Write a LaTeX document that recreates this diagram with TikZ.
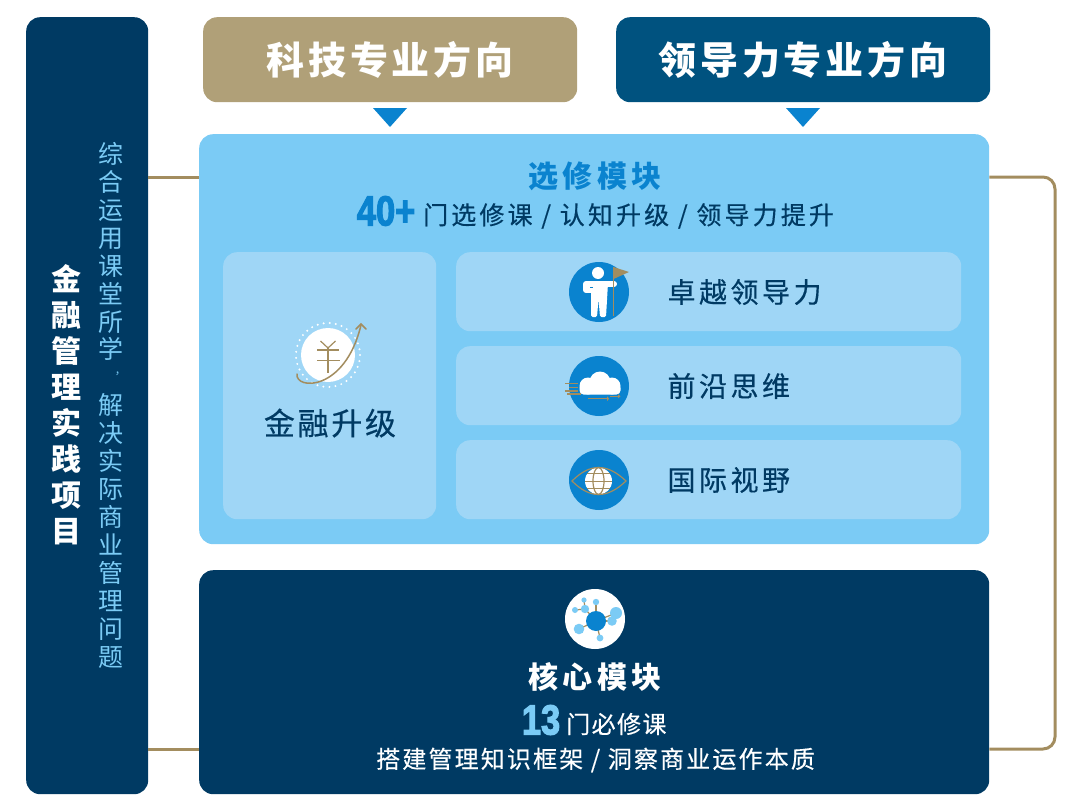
\documentclass[tikz,border=0pt]{standalone}
\usepackage{fontspec}
\setmainfont{Noto Sans CJK SC}
\newfontfamily\numfont[FakeBold=3]{Liberation Sans Bold}
\definecolor{navy}{HTML}{003A63}
\definecolor{deepblue}{HTML}{00527F}
\definecolor{gold}{HTML}{B0A078}
\definecolor{wire}{HTML}{A38D5F}
\definecolor{midblue}{HTML}{0A83CF}
\definecolor{skyblue}{HTML}{7BCBF5}
\definecolor{paleblue}{HTML}{9FD6F6}
\newcommand{\px}[2]{\fontsize{#1}{#1}\selectfont\addfontfeature{LetterSpace=#2}}
\newcommand{\heavier}{\addfontfeature{FakeBold=0.4}}
\tikzset{
  panel/.style={rounded corners=14pt, inner sep=0pt, anchor=north west},
  link/.style={draw=wire, line width=3pt},
  head/.style={text=white, font=\bfseries\px{38}{10}},
  rowtext/.style={text=navy, anchor=west, font=\px{28}{12.5}\heavier},
  body/.style={anchor=west, inner sep=0pt, font=\px{25}{12.5}\heavier},
  stack/.style={align=center, inner sep=0pt, anchor=north},
  disc/.style={circle, fill=midblue, minimum size=60pt, inner sep=0pt},
  fine/.style={wire, line width=1.2pt},
}
\begin{document}
\begin{tikzpicture}[x=1pt,y=-1pt]
    \useasboundingbox (0,0) rectangle (1080,811);
    % Panels
    \node[panel, fill=navy, minimum width=122pt, minimum height=777pt] (sidebar) at (26,17) {};
    \node[panel, fill=gold, minimum width=374pt, minimum height=85pt] (tech) at (203,17) {};
    \node[panel, fill=deepblue, minimum width=374pt, minimum height=85pt] (lead) at (616,17) {};
    \node[panel, fill=skyblue, minimum width=790pt, minimum height=410pt] (elective) at (199,134) {};
    \node[panel, fill=navy, minimum width=790pt, minimum height=224pt] (core) at (199,570) {};
    \node[panel, fill=paleblue, minimum width=213pt, minimum height=267pt] (finance) at (223,252) {};
    \node[panel, fill=paleblue, minimum width=505pt, minimum height=79pt] (rowa) at (456,252) {};
    \node[panel, fill=paleblue, minimum width=505pt, minimum height=79pt] (rowb) at (456,346) {};
    \node[panel, fill=paleblue, minimum width=505pt, minimum height=79pt] (rowc) at (456,440) {};

    % Gold links
    \coordinate (uplevel) at (0,177);
    \coordinate (lowlevel) at (0,749);
    \draw[link] (sidebar.east |- uplevel) -- (elective.west |- uplevel);
    \draw[link] (sidebar.east |- lowlevel) -- (core.west |- lowlevel);
    \draw[link, rounded corners=12pt] (elective.east |- uplevel) -- (1055,177) -- (1055,749) -- (core.east |- lowlevel);

    % Pointers
    \fill[midblue] (373,108) -- (407,108) -- (390,127) -- cycle;
    \fill[midblue] (786,108) -- (820,108) -- (803,127) -- cycle;

    % Side texts
    \node[stack, text=white, font=\bfseries\px{30}{0}] (sidetitle) at (66,264)
      {金\\[6pt]融\\[6pt]管\\[6pt]理\\[6pt]实\\[6pt]践\\[6pt]项\\[6pt]目};
    \node[stack, text=skyblue, font=\px{25}{0}] (sidetext) at (110.5,142)
      {综\\[2.95pt]合\\[2.95pt]运\\[2.95pt]用\\[2.95pt]课\\[2.95pt]堂\\[2.95pt]所\\[2.95pt]学\\[2.95pt]\hspace{20pt}\raisebox{12pt}{\scalebox{.45}{，}}\\[2.95pt]解\\[2.95pt]决\\[2.95pt]实\\[2.95pt]际\\[2.95pt]商\\[2.95pt]业\\[2.95pt]管\\[2.95pt]理\\[2.95pt]问\\[2.95pt]题};

    % Header texts
    \node[head] (techtext) at (390,60) {科技专业方向};
    \node[head] (leadtext) at (803,60) {领导力专业方向};

    % Elective module
    \node[text=midblue, font=\bfseries\px{30}{14}] (electitle) at (595,176) {选修模块};
    \node[text=midblue, anchor=west, xscale=.82, font=\numfont\fontsize{42}{42}\selectfont] (fortyplus) at (354,211) {40+};
    \node[body, text=navy] (electext) at (423,216) {门选修课 / 认知升级 / 领导力提升};
    \node[text=navy, font=\px{31}{8.7}\heavier] (financetext) at (330,423) {金融升级};

    % Yen icon
    \fill[white] (328,355) circle (27);
    \draw[white, line width=2.2pt, dash pattern=on 0pt off 6.1pt, line cap=round] (328,355) circle (32);
    \draw[fine] (320.5,341) -- (328,348) -- (335.5,341);
    \draw[fine] (328,348) -- (328,373);
    \draw[fine] (317,350) -- (339,350);
    \draw[fine] (317,360.5) -- (340,360.5);
    \draw[wire, line width=1.5pt, line cap=round] (297,374) .. controls (295,390) and (345,392) .. (361,325);
    \draw[wire, line width=1.5pt, line cap=round] (356,329) -- (361,324) -- (366,329);

    % Row texts and discs
    \node[rowtext] (rowatext) at (664,292) {卓越领导力};
    \node[rowtext] (rowbtext) at (664,386) {前沿思维};
    \node[rowtext] (rowctext) at (664,480) {国际视野};
    \node[disc] (leader) at (599,292) {};
    \node[disc] (cloud) at (599,386) {};
    \node[disc] (globe) at (599,480) {};

    % Person with flag
    \fill[white] (598,273) circle (6);
    \draw[white, line width=6pt, line cap=round, line join=round] (614,284) -- (586,284) -- (586,290) -- (593,290);
    \fill[white, rounded corners=1.5pt] (591,283) -- (608,283) -- (607,300) -- (606,317) -- (600,317) -- (598.5,299) -- (597,317) -- (591,317) -- cycle;
    \fill[midblue] (589.5,286.5) rectangle (593,288);
    \draw[wire, line width=1.2pt] (613.5,267) -- (613.5,316);
    \fill[wire] (613.5,267) -- (629,272) -- (613.5,279) -- cycle;

    % Cloud
    \fill[white] (588,386) circle (8.5);
    \fill[white] (600,382) circle (10.5);
    \fill[white] (612,386) circle (8.5);
    \fill[white, rounded corners=4pt] (579.5,384) rectangle (620.5,394.5);
    \draw[fine] (565,383.5) -- (578,383.5);
    \draw[fine] (569,387.5) -- (578,387.5);
    \draw[fine] (565,391) -- (578,391);
    \draw[fine] (567,394) -- (581,394);
    \draw[fine] (588,398.7) -- (607,398.7);
    \fill[wire] (607,396.2) -- (607,401.2) -- (609,398.7) -- cycle;
    \draw[fine] (610,396.3) -- (620,396.3);
    \fill[wire] (618,394.3) -- (618,398.3) -- (620.5,396.3) -- cycle;

    % Eye and globe
    \fill[white] (598.5,481) circle (13.5);
    \draw[fine] (572,481) .. controls (590,463) and (607,463) .. (626,481) .. controls (607,499) and (590,499) .. (572,481) -- cycle;
    \draw[fine] (598.5,481) ellipse (5.5 and 13.5);
    \draw[fine] (587,473.5) -- (610,473.5);
    \draw[fine] (585,481.5) -- (612,481.5);
    \draw[fine] (587,488.5) -- (610,488.5);

    % Core module
    \node[circle, fill=white, minimum size=60pt, inner sep=0pt] (coredisc) at (595,619) {};
    \foreach \dx/\dy in {585/609, 596/602, 616/613, 612/621, 579/629, 600/638}
      \draw[fine] (596,621) -- (\dx,\dy);
    \draw[fine] (575,610) -- (585,609) -- (584,600);
    \foreach \dx/\dy/\rr in {585/609/4.2, 584/600/2.6, 575/610/3, 596/602/3.2, 616/613/6, 612/621/4.8, 579/629/5.3, 600/638/3.4}
      \fill[skyblue] (\dx,\dy) circle (\rr);
    \fill[midblue] (596,621) circle (10);

    \node[text=white, font=\bfseries\px{30}{14}] (coretitle) at (595,677) {核心模块};
    \node[text=skyblue, anchor=west, xscale=.82, font=\numfont\fontsize{42}{42}\selectfont] (thirteen) at (519,720) {13};
    \node[body, text=white, font=\px{24}{6}\heavier] (coretext) at (566,724) {门必修课};
    \node[body, text=white, font=\px{24}{9}\heavier] (corebase) at (376,760) {搭建管理知识框架 / 洞察商业运作本质};
\end{tikzpicture}
\end{document}
